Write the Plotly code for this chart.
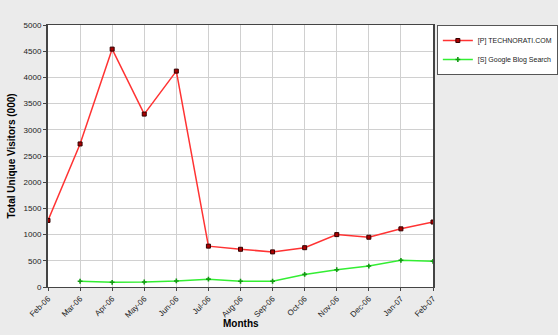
import plotly.graph_objects as go

months = ["Feb-06", "Mar-06", "Apr-06", "May-06", "Jun-06", "Jul-06", "Aug-06",
          "Sep-06", "Oct-06", "Nov-06", "Dec-06", "Jan-07", "Feb-07"]
technorati = [1270, 2730, 4540, 3300, 4120, 780, 720, 670, 750, 1000, 950, 1110, 1240]
google_blog = [None, 110, 90, 95, 115, 150, 110, 110, 240, 330, 400, 510, 490]
y_ticks = [0, 500, 1000, 1500, 2000, 2500, 3000, 3500, 4000, 4500, 5000]

fig = go.Figure()
fig.add_trace(go.Scatter(
    x=months, y=technorati, mode="lines+markers", name="[P] TECHNORATI.COM",
    line=dict(color="#FF3333", width=1.5),
    marker=dict(symbol="square", size=4, color="#AA0000", line=dict(color="#330000", width=1)),
))
fig.add_trace(go.Scatter(
    x=months, y=google_blog, mode="lines+markers", name="[S] Google Blog Search",
    line=dict(color="#33EE33", width=1.5),
    marker=dict(symbol="cross", size=4, color="#119911", line=dict(color="#115511", width=0)),
))

fig.update_layout(
    width=558, height=335,
    margin=dict(l=48, r=125, t=25, b=48, autoexpand=False),
    paper_bgcolor="#EBEBEB", plot_bgcolor="#FFFFFF",
    font=dict(family="Liberation Sans, Arial, sans-serif", size=8, color="#222222"),
    showlegend=True,
    legend=dict(x=1.01, y=1.0, xanchor="left", yanchor="top",
                bgcolor="#FFFFFF", bordercolor="#555555", borderwidth=1,
                font=dict(size=7), tracegroupgap=0, itemwidth=30),
    xaxis=dict(
        categoryorder="array", categoryarray=months, range=[0, 12],
        tickangle=-45, showgrid=True, gridcolor="#D0D0D0", gridwidth=1,
        showline=True, linecolor="#444444", linewidth=1, mirror=True,
        ticks="outside", ticklen=3, tickcolor="#444444",
        zeroline=False,
    ),
    yaxis=dict(
        range=[0, 5000], tickvals=y_ticks, showgrid=True, gridcolor="#D0D0D0",
        showline=True, linecolor="#444444", linewidth=2, mirror=True,
        ticks="outside", ticklen=3, tickcolor="#444444",
        title=dict(text="<b>Total Unique Visitors (000)</b>", font=dict(size=10, color="#000000"), standoff=6),
        zeroline=False,
    ),
    annotations=[dict(text="<b>Months</b>", xref="paper", yref="paper", x=0.5, y=-0.141,
                      xanchor="center", yanchor="middle", showarrow=False,
                      font=dict(size=10, color="#000000"))],
)

fig.write_html("out.html")
